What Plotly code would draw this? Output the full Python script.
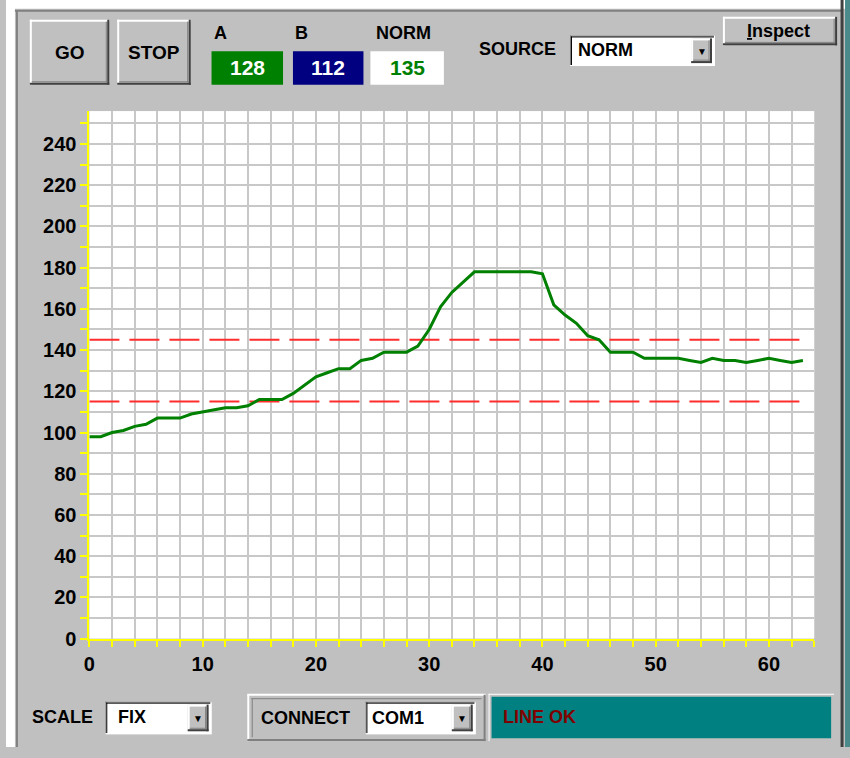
import plotly.graph_objects as go

# ---------------- data ----------------
x_index = list(range(64))
norm_values = [98, 98, 100, 101, 103, 104, 107, 107, 107, 109,
               110, 111, 112, 112, 113, 116, 116, 116, 119, 123,
               127, 129, 131, 131, 135, 136, 139, 139, 139, 142,
               150, 161, 168, 173, 178, 178, 178, 178, 178, 178,
               177, 162, 157, 153, 147, 145, 139, 139, 139, 136,
               136, 136, 136, 135, 134, 136, 135, 135, 134, 135,
               136, 135, 134, 135]
limit_high = 145
limit_low = 115
limit_span = [0, 63]
x_tick_values = list(range(0, 65, 2))
x_tick_labels = [str(v) if v % 10 == 0 else "" for v in x_tick_values]
y_tick_values = list(range(0, 251, 10))
y_tick_labels = [str(v) if v % 20 == 0 else "" for v in y_tick_values]
channel_names = ["A", "B", "NORM"]
channel_values = [128, 112, 135]

W, H = 850, 758
GRAY = "#C0C0C0"
UI_FONT = "Liberation Sans, Arial, sans-serif"


def px(x):
    return x / W


def py(y):
    return 1 - y / H


shapes = []
annotations = []


def rect(x0, y0, x1, y1, fill, line_color=None, line_width=0):
    shapes.append(dict(type="rect", xref="paper", yref="paper",
                       x0=px(x0), x1=px(x1), y0=py(y1), y1=py(y0),
                       fillcolor=fill, layer="below",
                       line=dict(color=line_color or fill, width=line_width)))


def hline(x0, x1, y, color, width=1):
    shapes.append(dict(type="line", xref="paper", yref="paper",
                       x0=px(x0), x1=px(x1), y0=py(y), y1=py(y),
                       line=dict(color=color, width=width), layer="below"))


def vline(x, y0, y1, color, width=1):
    shapes.append(dict(type="line", xref="paper", yref="paper",
                       x0=px(x), x1=px(x), y0=py(y0), y1=py(y1),
                       line=dict(color=color, width=width), layer="below"))


def bevel(x0, y0, x1, y1, face=GRAY):
    rect(x0, y0, x1, y1, face)
    hline(x0, x1, y0 + 1, "#FFFFFF", 2)
    vline(x0 + 1, y0, y1, "#FFFFFF", 2)
    hline(x0, x1, y1 - 1, "#404040", 2)
    vline(x1 - 1, y0, y1, "#404040", 2)
    hline(x0 + 2, x1 - 2, y1 - 3, "#808080", 1)
    vline(x1 - 3, y0 + 2, y1 - 2, "#808080", 1)


def sunken_box(x0, y0, x1, y1, face):
    rect(x0, y0, x1, y1, face)
    hline(x0, x1, y0 + 0.5, "#808080", 1)
    vline(x0 + 0.5, y0, y1, "#808080", 1)
    hline(x0 + 1, x1 - 1, y0 + 1.5, "#000000", 1)
    vline(x0 + 1.5, y0 + 1, y1 - 1, "#000000", 1)
    hline(x0, x1, y1 - 0.5, "#FFFFFF", 1)
    vline(x1 - 0.5, y0, y1, "#FFFFFF", 1)


def text(x, y, s, size=19, color="#000000", anchor="center", bold=True):
    annotations.append(dict(xref="paper", yref="paper", x=px(x), y=py(y),
                            text=s, showarrow=False, xanchor=anchor, yanchor="middle",
                            font=dict(size=size, color=color, family=UI_FONT,
                                      weight="bold" if bold else "normal")))


# window frame
rect(0, 0, W, 9, "#FFFFFF")
rect(0, 0, 9, H, "#FFFFFF")
hline(9, 842, 11, "#808080", 2)
vline(11, 11, H, "#808080", 2)
vline(842, 0, H, "#404040", 3)
rect(845, 0, W, H, "#4A8A8A")

# buttons
bevel(24, 20, 104, 86)
text(64, 53, "GO")
bevel(112, 20, 186, 86)
text(149, 53, "STOP")

# channel readouts
box_specs = [(207, 279, "#008000", "#FFFFFF"),
             (289, 360, "#000080", "#FFFFFF"),
             (367, 441, "#FFFFFF", "#008000")]
label_x = [216, 298, 400]
for (bx0, bx1, face, fg), name, val, lx in zip(box_specs, channel_names, channel_values, label_x):
    text(lx, 33, name, 18)
    rect(bx0, 52, bx1, 86, face)
    text((bx0 + bx1) / 2, 68, str(val), 21, fg)

# source dropdown
text(515, 50, "SOURCE", 18)
sunken_box(568, 36, 714, 67, "#FFFFFF")
text(574, 51, "NORM", 18, anchor="left")
bevel(690, 39, 711, 64)
text(700.5, 52, "▼", 10)

# inspect button
bevel(722, 17, 837, 46)
text(778, 31, "<u>I</u>nspect", 18)

# bottom controls
text(57, 728, "SCALE", 18)
sunken_box(100, 712, 207, 745, "#FFFFFF")
text(111, 728, "FIX", 18, anchor="left")
bevel(183, 715, 204, 742)
text(193.5, 729, "▼", 10)

hline(243, 483, 705, "#FFFFFF", 2)
vline(244, 705, 752, "#FFFFFF", 2)
hline(243, 483, 751, "#808080", 2)
vline(482, 705, 752, "#808080", 2)
hline(247, 479, 709, "#808080", 1)
vline(248, 709, 748, "#808080", 1)
text(302, 729, "CONNECT", 18)
sunken_box(362, 712, 473, 745, "#FFFFFF")
text(367, 729, "COM1", 18, anchor="left")
bevel(449, 715, 470, 742)
text(459.5, 729, "▼", 10)

hline(486, 834, 704.5, "#FFFFFF", 1)
vline(486.5, 704, 752, "#FFFFFF", 1)
rect(489, 707, 831, 749, "#008080")
text(499, 728, "LINE OK", 18, "#800000", anchor="left")

fig = go.Figure()

for lv in (limit_high, limit_low):
    fig.add_trace(go.Scatter(x=limit_span, y=[lv, lv], mode="lines",
                             line=dict(color="rgb(255,45,45)", width=2, dash="30px,10px"),
                             hoverinfo="skip", showlegend=False))

fig.add_trace(go.Scatter(x=x_index, y=norm_values, mode="lines",
                         line=dict(color="#008000", width=3),
                         showlegend=False))

axis_font = dict(family="Liberation Sans, Arial, sans-serif", size=20, color="#000000", weight="bold")

fig.update_layout(
    width=W, height=H,
    margin=dict(l=0, r=0, t=0, b=0),
    paper_bgcolor=GRAY,
    plot_bgcolor="#FFFFFF",
    shapes=shapes,
    annotations=annotations,
    showlegend=False,
    xaxis=dict(domain=[px(84), px(814)], range=[0, 64],
               tickmode="array", tickvals=x_tick_values, ticktext=x_tick_labels,
               showgrid=True, gridcolor="#C8C8C8", gridwidth=2,
               showline=True, linecolor="#FFFF00", linewidth=2,
               ticks="outside", tickcolor="#FFFF00", ticklen=6, tickwidth=2,
               tickfont=axis_font, zeroline=False, fixedrange=True),
    yaxis=dict(domain=[py(648), py(112.7)], range=[0, 256],
               tickmode="array", tickvals=y_tick_values, ticktext=y_tick_labels,
               showgrid=True, gridcolor="#C8C8C8", gridwidth=2,
               showline=True, linecolor="#FFFF00", linewidth=2,
               ticks="outside", tickcolor="#FFFF00", ticklen=7, tickwidth=2,
               tickfont=axis_font, zeroline=False, fixedrange=True),
)

fig.write_html("out.html", config={"displayModeBar": False},
               post_script="document.body.style.margin='0';document.body.style.overflow='hidden';")
